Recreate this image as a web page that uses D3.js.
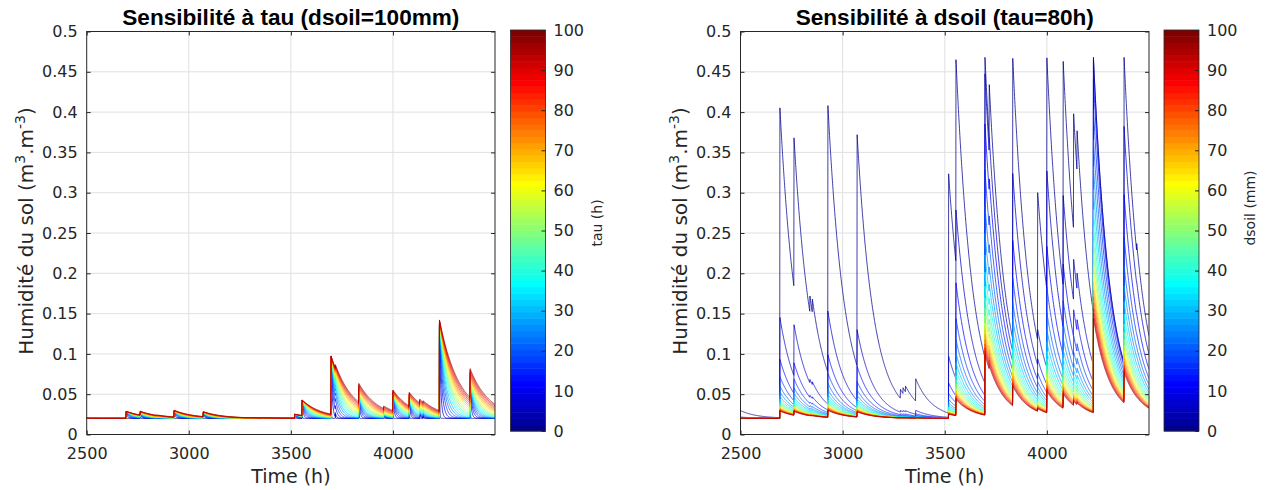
<!DOCTYPE html>
<html><head><meta charset="utf-8">
<script src="https://cdn.jsdelivr.net/npm/d3@7"></script>
<style>body{margin:0;background:#fff} svg{display:block}</style>
</head><body>
<svg id="chart" width="1269" height="490"></svg>
<script>
// ---------------- data ----------------
const xTicks = [2500, 3000, 3500, 4000];
const yTicks = [0, 0.05, 0.1, 0.15, 0.2, 0.25, 0.3, 0.35, 0.4, 0.45, 0.5];
const cbTicks = [0, 10, 20, 30, 40, 50, 60, 70, 80, 90, 100];
// parameter values of the curve families
const tauValues   = [1, 6, 11, 16, 21, 26, 31, 36, 41, 46, 51, 56, 61, 66, 71, 76, 81, 86, 91, 96];
const dsoilValues = [1, 6, 11, 16, 21, 26, 31, 36, 41, 46, 51, 56, 61, 66, 71, 76, 81, 86, 91, 96];
// rain events (hour, mm) estimated from the jumps of the curves
const rainTime = [2440, 2693, 2762, 2840, 2852, 2928, 3071, 3283, 3296, 3308, 3358, 3519, 3555, 3697, 3718, 3833, 3955, 4000, 4080, 4131, 4148, 4228, 4378, 4440];
const rainMm   = [0.021, 0.88, 0.47, 0.03, 0.025, 0.84, 0.62, 0.012, 0.008, 0.008, 0.03, 0.5, 2.0, 8.0, 0.5, 2.5, 0.33, 2.7, 1.8, 0.5, 0.2, 13.3, 4.0, 0.02];
const thetaR = 0.02, thetaS = 0.468;      // residual / saturated moisture
const fixedDsoil = 100, fixedTau = 80;    // from the titles
const simStart = 2400, simEnd = 4500;

// ---------------- model (linear reservoir) ----------------
const rainAt = new Map(rainTime.map((t, i) => [t, rainMm[i]]));
function simulate(tau, d) {
  let th = thetaR; const pts = [];
  for (let t = simStart; t <= simEnd; t++) {
    th = thetaR + (th - thetaR) * Math.exp(-1 / tau);
    const p = rainAt.get(t);
    if (p) th += (thetaS - th) * (1 - Math.exp(-p / (d * (thetaS - thetaR))));
    if (t >= 2490) pts.push([t, th]);
  }
  return pts;
}

// ---------------- jet(64) colormap ----------------
function jetU(j) { if (j < 1 || j > 47) return 0; if (j <= 16) return j / 16; if (j <= 31) return 1; return (48 - j) / 16; }
function jet64(k) { const k1 = k + 1;
  const r = jetU(k1 - 24), g = jetU(k1 - 8), b = jetU(k1 + 8);
  return d3.rgb(r * 255, g * 255, b * 255).formatHex(); }
function colorFor(v) { return jet64(Math.max(0, Math.min(63, Math.floor(v / 100 * 64)))); }

const svg = d3.select("#chart");
const ink = "#262626";
const tickFont = "DejaVu Sans";

function panel(o) {
  const x = d3.scaleLinear([2500, 4500], [o.x0, o.x1]);
  const y = d3.scaleLinear([0, 0.5], [434.5, 31.5]);
  const g = svg.append("g");
  const cid = "clip" + o.id;
  g.append("clipPath").attr("id", cid).append("rect")
    .attr("x", o.x0).attr("y", 31.5).attr("width", o.x1 - o.x0).attr("height", 403);
  // grid
  g.append("g").selectAll("line").data(xTicks.filter(t => t > 2500)).join("line")
    .attr("x1", d => x(d)).attr("x2", d => x(d)).attr("y1", 31.5).attr("y2", 434.5)
    .attr("stroke", "#e0e0e0").attr("stroke-width", 1);
  g.append("g").selectAll("line").data(yTicks.filter(t => t > 0 && t < 0.5)).join("line")
    .attr("x1", o.x0).attr("x2", o.x1).attr("y1", d => y(d)).attr("y2", d => y(d))
    .attr("stroke", "#e0e0e0").attr("stroke-width", 1);
  // curves
  const line = d3.line().x(d => x(d[0])).y(d => y(d[1]));
  g.append("g").attr("clip-path", `url(#${cid})`).selectAll("path").data(o.series).join("path")
    .attr("d", d => line(d.pts)).attr("fill", "none")
    .attr("stroke", d => colorFor(d.v)).attr("stroke-width", 0.75);
  // box
  g.append("rect").attr("x", o.x0).attr("y", 31.5).attr("width", o.x1 - o.x0).attr("height", 403)
    .attr("fill", "none").attr("stroke", ink).attr("stroke-width", 1);
  // axes
  const fmt = d => String(+d.toFixed(2));
  const styleAxis = sel => { sel.select(".domain").remove();
    sel.selectAll(".tick line").attr("stroke", ink);
    sel.selectAll(".tick text").attr("fill", ink).attr("font-family", tickFont).attr("font-size", 16); };
  g.append("g").attr("transform", "translate(0,434.5)")
    .call(d3.axisBottom(x).tickValues(xTicks).tickSize(-4).tickPadding(13).tickFormat(d3.format("d"))).call(styleAxis);
  g.append("g").attr("transform", "translate(0,31.5)")
    .call(d3.axisTop(x).tickValues(xTicks).tickSize(-4).tickFormat("")).call(styleAxis);
  g.append("g").attr("transform", `translate(${o.x0},0)`)
    .call(d3.axisLeft(y).tickValues(yTicks).tickSize(-4).tickPadding(9).tickFormat(fmt)).call(styleAxis);
  g.append("g").attr("transform", `translate(${o.x1},0)`)
    .call(d3.axisRight(y).tickValues(yTicks).tickSize(-4).tickFormat("")).call(styleAxis);
  // labels
  g.append("text").attr("x", (o.x0 + o.x1) / 2).attr("y", 483).attr("text-anchor", "middle")
    .attr("font-family", tickFont).attr("font-size", 19).attr("fill", ink).text("Time (h)");
  const yl = g.append("text").attr("transform", `translate(${o.x0 - 54},231) rotate(-90)`)
    .attr("text-anchor", "middle").attr("font-family", tickFont).attr("font-size", 20).attr("fill", ink);
  yl.append("tspan").text("Humidité du sol (m");
  yl.append("tspan").attr("dy", -8).attr("font-size", 14).text("3");
  yl.append("tspan").attr("dy", 8).text(".m");
  yl.append("tspan").attr("dy", -8).attr("font-size", 14).text("-3");
  yl.append("tspan").attr("dy", 8).text(")");
  g.append("text").attr("x", (o.x0 + o.x1) / 2).attr("y", 25).attr("text-anchor", "middle")
    .attr("font-family", "Liberation Sans, Arial, sans-serif").attr("font-weight", "bold")
    .attr("font-size", 22.6).attr("fill", "#000").text(o.title);
  // colorbar
  const cb = d3.scaleLinear([0, 100], [431, 30]);
  const bands = d3.range(64);
  g.append("g").selectAll("rect").data(bands).join("rect")
    .attr("x", o.cbx).attr("width", 35)
    .attr("y", k => cb((k + 1) * 100 / 64)).attr("height", k => cb(k * 100 / 64) - cb((k + 1) * 100 / 64) + 0.5)
    .attr("fill", k => jet64(k));
  g.append("rect").attr("x", o.cbx).attr("y", 30).attr("width", 35).attr("height", 401)
    .attr("fill", "none").attr("stroke", ink).attr("stroke-width", 0.8);
  g.append("g").attr("transform", `translate(${o.cbx + 35},0)`)
    .call(d3.axisRight(cb).tickValues(cbTicks).tickSize(-4).tickPadding(8)).call(styleAxis);
  g.append("text").attr("transform", `translate(${o.cbx + 86},${o.cbLabelY}) rotate(-90)`)
    .attr("text-anchor", "middle").attr("dominant-baseline", "central")
    .attr("font-family", tickFont).attr("font-size", 14).attr("fill", ink).text(o.cbLabel);
}

panel({ id: "L", x0: 86.7, x1: 495, cbx: 510.5, cbLabel: "tau (h)", cbLabelY: 223,
  title: "Sensibilité à tau (dsoil=100mm)",
  series: tauValues.map(v => ({ v, pts: simulate(v, fixedDsoil) })) });
panel({ id: "R", x0: 740.5, x1: 1149, cbx: 1164, cbLabel: "dsoil (mm)", cbLabelY: 208,
  title: "Sensibilité à dsoil (tau=80h)",
  series: dsoilValues.map(v => ({ v, pts: simulate(fixedTau, v) })) });
</script>
</body></html>
